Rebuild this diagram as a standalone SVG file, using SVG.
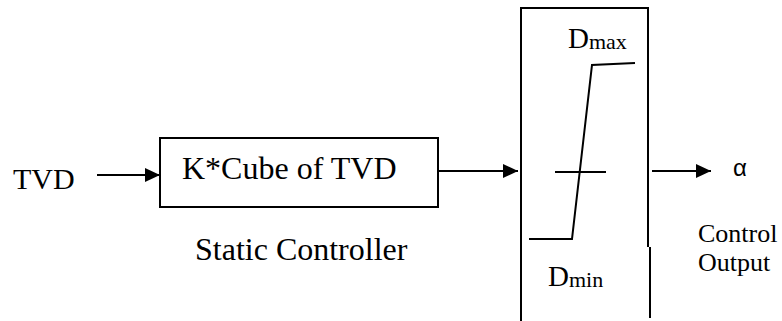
<svg xmlns="http://www.w3.org/2000/svg" width="782" height="321" viewBox="0 0 782 321">
<style>
.t{font-family:'Times New Roman','Liberation Serif','DejaVu Serif',serif;fill:#000}
.s{font-family:'Liberation Sans',Arial,sans-serif;fill:#000}
.box{fill:none;stroke:#000;stroke-width:2}
.ln{fill:none;stroke:#000;stroke-width:2}
</style>
<defs>
<marker id="ah" markerUnits="userSpaceOnUse" markerWidth="16" markerHeight="16" refX="15" refY="7" orient="auto">
<path d="M0,0 L15,7 L0,14 Z" fill="#000"/>
</marker>
</defs>
<g id="input-label"><text class="t" x="13" y="189" font-size="30">TVD</text></g>
<g id="static-controller">
<rect class="box" x="160" y="138" width="278" height="69"/>
<text class="t" x="182" y="179" font-size="32">K*Cube of TVD</text>
<text class="t" x="195" y="260" font-size="32">Static Controller</text>
</g>
<g id="saturation">
<path class="box" d="M521,321 V8 H648 V247"/>
<path class="box" d="M650,247 V318"/>
<path class="ln" d="M529,239 H572 L592,65 L635,63"/>
<path class="ln" d="M555,172 H606"/>
<text class="t" x="568" y="48" font-size="29">D<tspan font-size="22" dy="1">max</tspan></text>
<text class="t" x="548" y="286" font-size="29">D<tspan font-size="22" dy="1">min</tspan></text>
</g>
<g id="output">
<text class="s" x="733" y="176" font-size="24">α</text>
<text class="t" x="698" y="242" font-size="26">Control</text>
<text class="t" x="698" y="271" font-size="26">Output</text>
</g>
<g id="connectors">
<path class="ln" d="M97,175 H160" marker-end="url(#ah)"/>
<path class="ln" d="M438,171 H518" marker-end="url(#ah)"/>
<path class="ln" d="M652,171 H711" marker-end="url(#ah)"/>
</g>
</svg>
